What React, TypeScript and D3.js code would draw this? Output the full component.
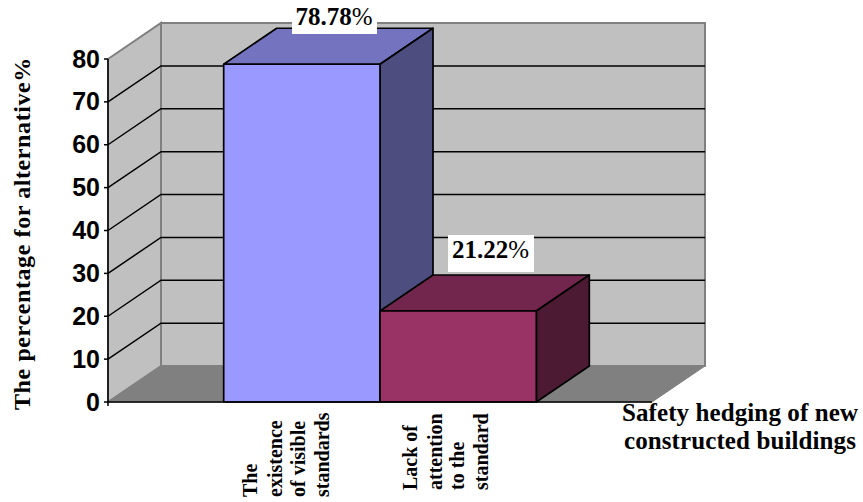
import React from "react";
import * as d3 from "d3";

const categories = ["The existence of visible standards", "Lack of attention to the standard"];
const values = [78.78, 21.22];
const valueLabels = ["78.78", "21.22"];
const categoryLines = [["The", "existence", "of visible", "standards"], ["Lack of", "attention", "to the", "standard"]];
const ticks = [0, 10, 20, 30, 40, 50, 60, 70, 80];
const frontColors = ["#9999FF", "#993366"];
const topColors = ["#7373BF", "#73264D"];
const sideColors = ["#4D4D80", "#4D1A33"];

const W = 863, H = 502;
const depthX = 53, depthY = -36;
const y = d3.scaleLinear().domain([0, 80]).range([402, 59]);
const x = d3.scaleBand<string>().domain(categories).range([108, 652]).paddingInner(0).paddingOuter(0.74);
const x0 = 108, x1 = 652;
const poly = (pts: [number, number][]) => (d3.line()(pts) ?? "") + "Z";
const serif = "'Liberation Serif', serif";
const sans = "'Liberation Sans', sans-serif";
const wallStroke = "#808080";

export default function App() {
  const yTop = y(80), yBot = y(0);
  const labelCenters = [[334, 25], [490.5, 258]];
  const labelBoxes = [[292, 0, 85, 34], [448, 235, 86, 37]];
  const catX = [[250, 275, 298, 322], [410, 435, 457, 481]];
  const catStart = [497, 490];
  return (
    <svg width={W} height={H} style={{ position: "absolute", left: 0, top: 0, background: "#fff" }}>
      {/* back wall */}
      <rect x={x0 + depthX} y={yTop + depthY} width={x1 - x0} height={yBot - yTop} fill="#C0C0C0" stroke={wallStroke} strokeWidth={2} />
      {/* side wall */}
      <path d={poly([[x0, yTop], [x0 + depthX, yTop + depthY], [x0 + depthX, yBot + depthY], [x0, yBot]])} fill="#C0C0C0" stroke={wallStroke} strokeWidth={2} />
      {/* floor */}
      <path d={poly([[x0, yBot], [x0 + depthX, yBot + depthY], [x1 + depthX, yBot + depthY], [x1, yBot]])} fill="#808080" stroke="#808080" strokeWidth={1} />
      {/* gridlines */}
      {ticks.filter((t) => t > 0 && t < 80).map((t) => (
        <path key={t} d={`M${x0},${y(t)}L${x0 + depthX},${y(t) + depthY}H${x1 + depthX}`} fill="none" stroke="#000" strokeWidth={1.5} />
      ))}
      {/* bars: drawn back to front, left to right */}
      {categories.map((c, i) => {
        const l = x(c)!, r = l + x.bandwidth(), t = y(values[i]), b = y(0);
        return (
          <g key={c} stroke="#000" strokeWidth={1.7} strokeLinejoin="round">
            <path d={poly([[l, t], [l + depthX, t + depthY], [r + depthX, t + depthY], [r, t]])} fill={topColors[i]} />
            <path d={poly([[r, t], [r + depthX, t + depthY], [r + depthX, b + depthY], [r, b]])} fill={sideColors[i]} />
            <rect x={l} y={t} width={r - l} height={b - t} fill={frontColors[i]} />
          </g>
        );
      })}
      {/* value axis */}
      <line x1={x0} x2={x0} y1={yTop} y2={yBot + 4} stroke="#000" strokeWidth={1.5} />
      <line x1={x0} x2={x1} y1={yBot} y2={yBot} stroke="#000" strokeWidth={1.5} />
      {ticks.map((t) => (
        <g key={t}>
          <line x1={x0 - 4} x2={x0} y1={y(t)} y2={y(t)} stroke="#000" strokeWidth={1.5} />
          <text x={x0 - 8} y={y(t) + 8.5} textAnchor="end" fontFamily={sans} fontWeight="bold" fontSize={25} fill="#000">{t}</text>
        </g>
      ))}
      {/* value labels */}
      {valueLabels.map((v, i) => (
        <g key={v}>
          <rect x={labelBoxes[i][0]} y={labelBoxes[i][1]} width={labelBoxes[i][2]} height={labelBoxes[i][3]} fill="#fff" />
          <text x={labelCenters[i][0]} y={labelCenters[i][1]} textAnchor="middle" fontFamily={serif} fontSize={25} fill="#000">
            <tspan fontWeight="bold">{v}</tspan><tspan>%</tspan>
          </text>
        </g>
      ))}
      {/* category labels */}
      {categoryLines.map((lines, i) => lines.map((ln, j) => (
        <text key={ln} transform={`translate(${catX[i][j] + 7},${catStart[i]}) rotate(-90)`} fontFamily={serif} fontWeight="bold" fontSize={20} fill="#000">{ln}</text>
      )))}
      {/* axis titles */}
      <text transform="translate(30,233.5) rotate(-90)" textAnchor="middle" fontFamily={serif} fontWeight="bold" fontSize={24} letterSpacing={0.6} fill="#000">The percentage for alternative%</text>
      <text x={740} y={421} textAnchor="middle" fontFamily={serif} fontWeight="bold" fontSize={25} letterSpacing={0.1} fill="#000">Safety hedging of new</text>
      <text x={740} y={449} textAnchor="middle" fontFamily={serif} fontWeight="bold" fontSize={25} letterSpacing={0.1} fill="#000">constructed buildings</text>
    </svg>
  );
}
